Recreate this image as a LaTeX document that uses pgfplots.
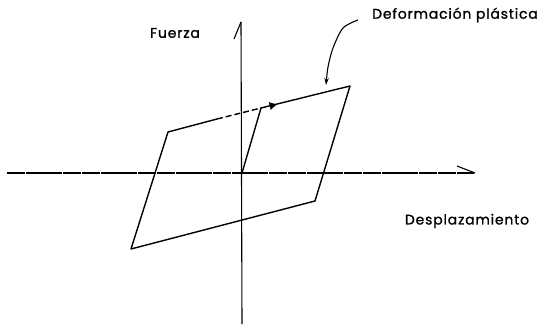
\documentclass[border=0pt]{standalone}
\usepackage{fontspec}
\setmainfont{Poppins}[LetterSpace=6,FakeBold=1.2]
\usepackage{pgfplots}
\pgfplotsset{compat=1.18}
\usetikzlibrary{arrows.meta}
\begin{document}
\begin{tikzpicture}
\begin{axis}[
  scale only axis, width=547bp, height=324bp,
  xmin=-242, xmax=305, ymin=-151, ymax=173,
  hide axis, clip=false,
]
\addplot[draw=none] coordinates {(-242,-151) (305,173)};
% axes
\addplot[black, line width=1.1pt, dash pattern=on 18pt off 0.8pt] coordinates {(-235,0) (233,0)};
\addplot[black, line width=1.1pt] coordinates {(215,7) (233,0)};
\addplot[black, line width=1.1pt] coordinates {(0,-151) (-1,151)};
\addplot[black, line width=1.1pt] coordinates {(-8,134) (-1,151)};
% hysteresis loop
\addplot[black, line width=1.4pt, line join=round] coordinates {
  (0,0) (19,65) (108,87) (73,-28) (-111,-76) (-74,41) (-25,54)};
\addplot[black, line width=1.4pt, dash pattern=on 6pt off 3pt] coordinates {(-25,54) (19,65)};
% direction marker
\addplot[black, mark=triangle*, mark size=4.2pt, mark options={rotate=-76}, only marks] coordinates {(30,67.5)};
% curved pointer
\addplot[black, line width=1.1pt, smooth, -{Stealth[length=7pt,width=4.5pt]}] coordinates {
  (116,153) (101,145) (91,125) (86,106) (84,88)};
\node[font=\fontsize{14}{16}\selectfont] at (axis cs:-67,140) {Fuerza};
\node[font=\fontsize{14}{16}\selectfont] at (axis cs:225,-48) {Desplazamiento};
\node[font=\fontsize{14}{16}\selectfont] at (axis cs:213,158) {Deformación plástica};
\end{axis}
\end{tikzpicture}
\end{document}
